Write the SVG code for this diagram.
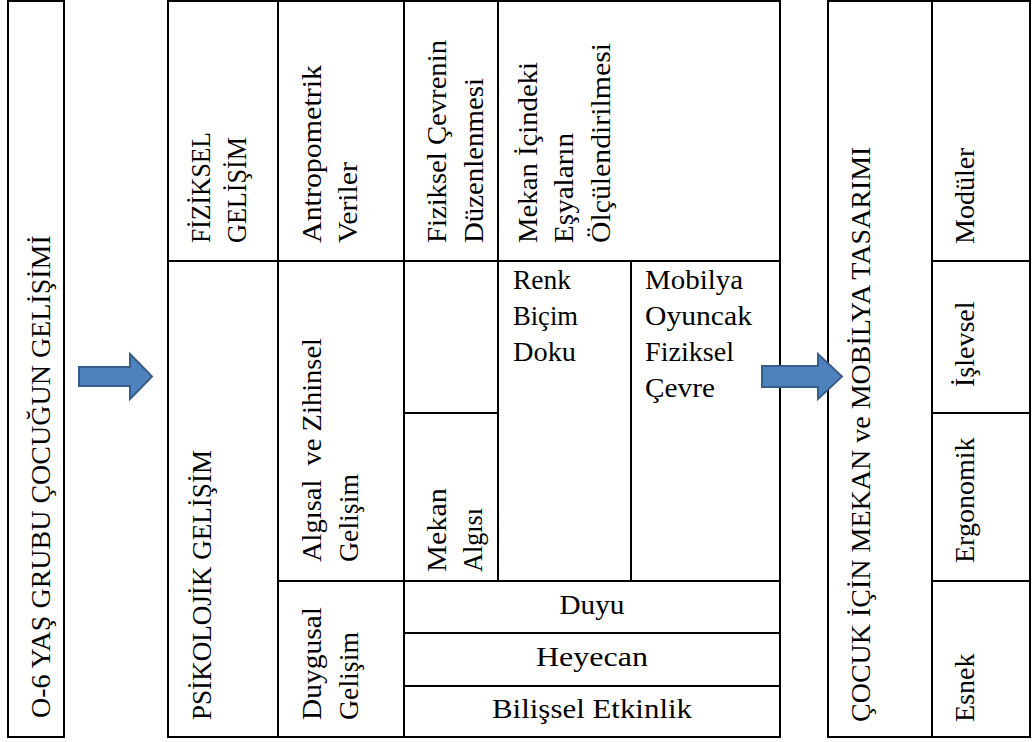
<svg xmlns="http://www.w3.org/2000/svg" width="1032" height="742" viewBox="0 0 1032 742">
<style>
.cell{fill:#fff;stroke:#000;stroke-width:2}
.tn{font-family:'Liberation Serif',serif;font-size:28px;fill:#000}
.pt{font-family:'Liberation Serif',serif;font-size:27px;fill:#000}
.mid{text-anchor:middle}
.arrow{fill:#4F81BD;stroke:#385D8A;stroke-width:2;stroke-linejoin:miter}
</style>
<rect x="0" y="0" width="1032" height="742" fill="#fff"/>
<g id="node-gelisim">
<rect class="cell" x="8" y="1" width="56" height="736"/>
<text class="tn" transform="translate(50,718) rotate(-90)">O-6 YAŞ GRUBU ÇOCUĞUN GELİŞİMİ</text>
</g>

<g id="node-fiziksel-gelisim">
<rect class="cell" x="168" y="1" width="110" height="260"/>
<text class="pt" transform="translate(210,243) rotate(-90)" textLength="111" lengthAdjust="spacingAndGlyphs">FİZİKSEL</text>
<text class="pt" transform="translate(246,243) rotate(-90)" textLength="106" lengthAdjust="spacingAndGlyphs">GELİŞİM</text>
</g>
<g id="node-antropometrik">
<rect class="cell" x="278" y="1" width="126" height="260"/>
<text class="pt" transform="translate(321,243) rotate(-90)" textLength="178" lengthAdjust="spacingAndGlyphs">Antropometrik</text>
<text class="pt" transform="translate(357,243) rotate(-90)" textLength="81" lengthAdjust="spacingAndGlyphs">Veriler</text>
</g>
<g id="node-fiziksel-cevre">
<rect class="cell" x="404" y="1" width="94" height="260"/>
<text class="pt" transform="translate(446,243) rotate(-90)" textLength="203" lengthAdjust="spacingAndGlyphs">Fiziksel Çevrenin</text>
<text class="pt" transform="translate(483,243) rotate(-90)" textLength="165" lengthAdjust="spacingAndGlyphs">Düzenlenmesi</text>
</g>
<g id="node-mekan-esyalar">
<rect class="cell" x="498" y="1" width="282" height="260"/>
<text class="pt" transform="translate(537,243) rotate(-90)" textLength="181" lengthAdjust="spacingAndGlyphs">Mekan İçindeki</text>
<text class="pt" transform="translate(573,243) rotate(-90)" textLength="110" lengthAdjust="spacingAndGlyphs">Eşyaların</text>
<text class="pt" transform="translate(610,243) rotate(-90)" textLength="200" lengthAdjust="spacingAndGlyphs">Ölçülendirilmesi</text>
</g>

<g id="node-psikolojik">
<rect class="cell" x="168" y="261" width="110" height="476"/>
<text class="pt" transform="translate(211,720) rotate(-90)" textLength="270" lengthAdjust="spacingAndGlyphs">PSİKOLOJİK GELİŞİM</text>
</g>
<g id="node-algisal">
<rect class="cell" x="278" y="261" width="126" height="320"/>
<text class="pt" xml:space="preserve" transform="translate(321,562) rotate(-90)" textLength="224" lengthAdjust="spacingAndGlyphs">Algısal  ve Zihinsel</text>
<text class="pt" transform="translate(358,562) rotate(-90)" textLength="88" lengthAdjust="spacingAndGlyphs">Gelişim</text>
</g>
<g id="node-bos">
<rect class="cell" x="404" y="261" width="94" height="152"/>
</g>
<g id="node-mekan-algisi">
<rect class="cell" x="404" y="413" width="94" height="168"/>
<text class="pt" transform="translate(446,572) rotate(-90)" textLength="84" lengthAdjust="spacingAndGlyphs">Mekan</text>
<text class="pt" transform="translate(482,572) rotate(-90)" textLength="64" lengthAdjust="spacingAndGlyphs">Algısı</text>
</g>
<g id="node-renk">
<rect class="cell" x="498" y="261" width="133" height="320"/>
<text class="pt" x="513" y="289" textLength="58" lengthAdjust="spacingAndGlyphs">Renk</text>
<text class="pt" x="513" y="325" textLength="65" lengthAdjust="spacingAndGlyphs">Biçim</text>
<text class="pt" x="513" y="361" textLength="63" lengthAdjust="spacingAndGlyphs">Doku</text>
</g>
<g id="node-mobilya">
<rect class="cell" x="631" y="261" width="149" height="320"/>
<text class="pt" x="645" y="289" textLength="98" lengthAdjust="spacingAndGlyphs">Mobilya</text>
<text class="pt" x="645" y="325" textLength="107" lengthAdjust="spacingAndGlyphs">Oyuncak</text>
<text class="pt" x="645" y="361" textLength="89" lengthAdjust="spacingAndGlyphs">Fiziksel</text>
<text class="pt" x="645" y="397" textLength="70" lengthAdjust="spacingAndGlyphs">Çevre</text>
</g>
<g id="node-duygusal">
<rect class="cell" x="278" y="581" width="126" height="156"/>
<text class="pt" transform="translate(321,720) rotate(-90)" textLength="113" lengthAdjust="spacingAndGlyphs">Duygusal</text>
<text class="pt" transform="translate(358,720) rotate(-90)" textLength="88" lengthAdjust="spacingAndGlyphs">Gelişim</text>
</g>
<g id="node-duyu">
<rect class="cell" x="404" y="581" width="376" height="52"/>
<text class="pt mid" x="592" y="614" textLength="65" lengthAdjust="spacingAndGlyphs">Duyu</text>
</g>
<g id="node-heyecan">
<rect class="cell" x="404" y="633" width="376" height="53"/>
<text class="pt mid" x="592" y="666" textLength="112" lengthAdjust="spacingAndGlyphs">Heyecan</text>
</g>
<g id="node-bilissel">
<rect class="cell" x="404" y="686" width="376" height="51"/>
<text class="pt mid" x="592" y="718" textLength="200" lengthAdjust="spacingAndGlyphs">Bilişsel Etkinlik</text>
</g>

<g id="node-tasarim">
<rect class="cell" x="828" y="1" width="104" height="736"/>
<text class="tn" transform="translate(870,722) rotate(-90)">ÇOCUK İÇİN MEKAN ve MOBİLYA TASARIMI</text>
</g>
<g id="node-moduler">
<rect class="cell" x="932" y="1" width="98" height="260"/>
<text class="tn" transform="translate(974,244) rotate(-90)">Modüler</text>
</g>
<g id="node-islevsel">
<rect class="cell" x="932" y="261" width="98" height="152"/>
<text class="tn" transform="translate(974,387) rotate(-90)">İşlevsel</text>
</g>
<g id="node-ergonomik">
<rect class="cell" x="932" y="413" width="98" height="168"/>
<text class="tn" transform="translate(974,563) rotate(-90)">Ergonomik</text>
</g>
<g id="node-esnek">
<rect class="cell" x="932" y="581" width="98" height="156"/>
<text class="tn" transform="translate(974,722) rotate(-90)">Esnek</text>
</g>

<g id="connectors">
<path class="arrow" d="M79,367 L130,367 L130,354 L152,376.5 L130,399 L130,386 L79,386 Z"/>
<path class="arrow" d="M762,366 L818,366 L818,354 L842,376.5 L818,399 L818,387 L762,387 Z"/>
</g>
</svg>
